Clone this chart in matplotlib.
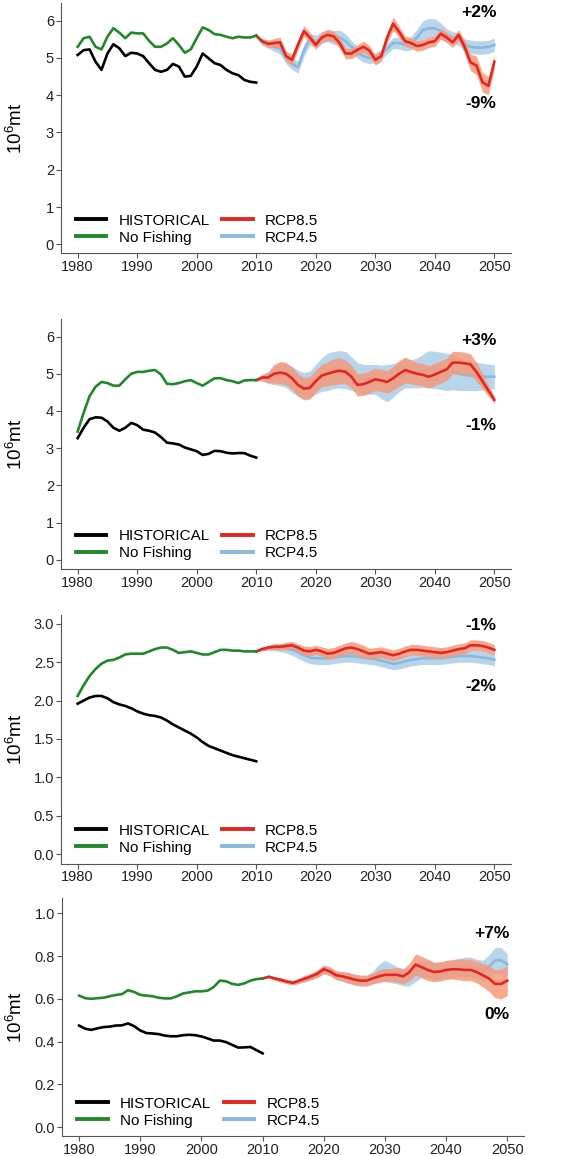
import numpy as np
import matplotlib
matplotlib.use("Agg")
import matplotlib.pyplot as plt
from matplotlib.lines import Line2D

plt.rcParams["font.family"] = ["Liberation Sans", "DejaVu Sans"]
plt.rcParams["mathtext.default"] = "regular"

# ---- years ----
years_hist = np.arange(1980, 2011)
years_proj = np.arange(2010, 2051)

# ---- panel 1 ----
p1_hist = [5.08, 5.21, 5.23, 4.90, 4.68, 5.12, 5.37, 5.26, 5.05, 5.14, 5.12,
           5.05, 4.86, 4.68, 4.63, 4.68, 4.84, 4.77, 4.50, 4.52, 4.77,
           5.12, 4.99, 4.86, 4.81, 4.68, 4.59, 4.54, 4.41, 4.36, 4.34]
p1_nofish = [5.30, 5.53, 5.57, 5.30, 5.23, 5.57, 5.80, 5.68, 5.53, 5.68, 5.66,
             5.66, 5.46, 5.30, 5.30, 5.39, 5.53, 5.35, 5.14, 5.23, 5.53,
             5.82, 5.75, 5.64, 5.62, 5.57, 5.53, 5.57, 5.55, 5.55, 5.60]
p1_rcp85 = [5.60, 5.45, 5.38, 5.40, 5.42, 5.05, 4.95, 5.35, 5.72, 5.55, 5.35,
            5.55, 5.62, 5.58, 5.40, 5.12, 5.12, 5.22, 5.30, 5.20, 4.95,
            5.05, 5.55, 5.92, 5.70, 5.45, 5.40, 5.32, 5.35, 5.42, 5.45,
            5.65, 5.55, 5.42, 5.62, 5.30, 4.88, 4.80, 4.35, 4.25, 4.90]
p1_rcp85_sd = [0.02, 0.07, 0.10, 0.12, 0.14, 0.14, 0.15, 0.14, 0.15, 0.14, 0.12,
               0.14, 0.15, 0.14, 0.14, 0.14, 0.14, 0.14, 0.15, 0.14, 0.14,
               0.14, 0.15, 0.18, 0.15, 0.14, 0.14, 0.14, 0.14, 0.14, 0.14,
               0.14, 0.14, 0.14, 0.14, 0.18, 0.22, 0.25, 0.26, 0.24, 0.18]
p1_rcp45 = [5.60, 5.40, 5.35, 5.30, 5.25, 5.00, 4.85, 4.75, 5.20, 5.50, 5.45,
            5.55, 5.60, 5.55, 5.55, 5.45, 5.30, 5.15, 5.05, 5.00, 5.00,
            5.10, 5.25, 5.40, 5.40, 5.35, 5.40, 5.55, 5.75, 5.80, 5.80,
            5.72, 5.60, 5.55, 5.50, 5.35, 5.30, 5.28, 5.28, 5.30, 5.35]
p1_rcp45_sd = [0.02, 0.06, 0.09, 0.12, 0.14, 0.15, 0.16, 0.16, 0.16, 0.16, 0.16,
               0.16, 0.16, 0.18, 0.20, 0.20, 0.16, 0.16, 0.16, 0.15, 0.14,
               0.14, 0.14, 0.15, 0.16, 0.16, 0.18, 0.22, 0.25, 0.26, 0.25,
               0.22, 0.18, 0.16, 0.16, 0.16, 0.18, 0.18, 0.18, 0.18, 0.18]

# ---- panel 2 ----
p2_hist = [3.27, 3.55, 3.78, 3.83, 3.82, 3.72, 3.55, 3.47, 3.55, 3.68, 3.62,
           3.50, 3.47, 3.42, 3.30, 3.15, 3.13, 3.10, 3.02, 2.97, 2.92,
           2.82, 2.85, 2.93, 2.92, 2.88, 2.86, 2.87, 2.87, 2.80, 2.75]
p2_nofish = [3.45, 3.95, 4.40, 4.65, 4.78, 4.75, 4.68, 4.68, 4.85, 5.00, 5.05,
             5.05, 5.08, 5.10, 4.98, 4.73, 4.72, 4.75, 4.80, 4.83, 4.75,
             4.68, 4.78, 4.88, 4.88, 4.83, 4.80, 4.75, 4.82, 4.83, 4.83]
p2_rcp85 = [4.83, 4.90, 4.90, 5.00, 5.03, 5.00, 4.88, 4.70, 4.60, 4.62, 4.80,
            4.95, 5.00, 5.05, 5.08, 5.05, 4.92, 4.70, 4.72, 4.78, 4.85,
            4.82, 4.78, 4.88, 5.00, 5.10, 5.05, 5.00, 4.97, 4.92, 4.98,
            5.05, 5.12, 5.30, 5.30, 5.28, 5.25, 5.05, 4.80, 4.55, 4.30]
p2_rcp85_sd = [0.02, 0.08, 0.15, 0.25, 0.30, 0.30, 0.30, 0.30, 0.30, 0.30, 0.30,
               0.30, 0.32, 0.35, 0.35, 0.32, 0.30, 0.30, 0.30, 0.30, 0.30,
               0.30, 0.30, 0.32, 0.35, 0.35, 0.32, 0.30, 0.30, 0.30, 0.30,
               0.30, 0.30, 0.30, 0.30, 0.30, 0.28, 0.25, 0.20, 0.15, 0.10]
p2_rcp45 = [4.83, 4.88, 4.90, 4.95, 4.98, 4.95, 4.85, 4.75, 4.68, 4.72, 4.85,
            4.98, 5.05, 5.10, 5.12, 5.10, 5.00, 4.90, 4.85, 4.85, 4.85,
            4.78, 4.75, 4.82, 4.92, 5.00, 5.00, 5.02, 5.08, 5.12, 5.10,
            5.08, 5.05, 5.05, 5.00, 4.97, 4.95, 4.93, 4.92, 4.92, 4.92]
p2_rcp45_sd = [0.02, 0.08, 0.15, 0.25, 0.30, 0.32, 0.35, 0.35, 0.35, 0.35, 0.40,
               0.45, 0.50, 0.50, 0.50, 0.50, 0.45, 0.40, 0.40, 0.40, 0.40,
               0.45, 0.50, 0.45, 0.40, 0.38, 0.38, 0.40, 0.45, 0.50, 0.50,
               0.50, 0.50, 0.48, 0.45, 0.42, 0.40, 0.38, 0.36, 0.34, 0.32]

# ---- panel 3 ----
p3_hist = [1.96, 2.00, 2.04, 2.06, 2.06, 2.03, 1.98, 1.95, 1.93, 1.90, 1.86,
           1.83, 1.81, 1.80, 1.78, 1.74, 1.69, 1.65, 1.61, 1.57, 1.52,
           1.46, 1.41, 1.38, 1.35, 1.32, 1.29, 1.27, 1.25, 1.23, 1.21]
p3_nofish = [2.06, 2.20, 2.32, 2.41, 2.48, 2.52, 2.53, 2.56, 2.60, 2.61, 2.61,
             2.61, 2.64, 2.67, 2.69, 2.69, 2.66, 2.62, 2.63, 2.64, 2.62,
             2.60, 2.60, 2.63, 2.66, 2.66, 2.65, 2.65, 2.64, 2.64, 2.64]
p3_rcp85 = [2.64, 2.67, 2.69, 2.70, 2.70, 2.71, 2.72, 2.69, 2.65, 2.64, 2.66,
            2.64, 2.61, 2.62, 2.65, 2.68, 2.69, 2.67, 2.64, 2.61, 2.62,
            2.63, 2.61, 2.59, 2.61, 2.64, 2.66, 2.66, 2.65, 2.64, 2.63,
            2.62, 2.63, 2.65, 2.67, 2.68, 2.72, 2.72, 2.71, 2.69, 2.66]
p3_rcp85_sd = [0.01, 0.02, 0.03, 0.04, 0.04, 0.05, 0.05, 0.05, 0.06, 0.06, 0.06,
               0.06, 0.07, 0.07, 0.07, 0.07, 0.08, 0.08, 0.08, 0.07, 0.07,
               0.07, 0.07, 0.07, 0.07, 0.07, 0.07, 0.07, 0.07, 0.07, 0.07,
               0.07, 0.07, 0.07, 0.07, 0.07, 0.07, 0.07, 0.07, 0.07, 0.07]
p3_rcp45 = [2.64, 2.67, 2.68, 2.69, 2.69, 2.68, 2.66, 2.63, 2.59, 2.56, 2.55,
            2.55, 2.55, 2.56, 2.57, 2.58, 2.58, 2.57, 2.56, 2.55, 2.54,
            2.52, 2.50, 2.48, 2.49, 2.51, 2.53, 2.54, 2.55, 2.55, 2.55,
            2.55, 2.56, 2.57, 2.58, 2.58, 2.58, 2.57, 2.56, 2.55, 2.53]
p3_rcp45_sd = [0.01, 0.02, 0.03, 0.04, 0.05, 0.06, 0.07, 0.08, 0.08, 0.08, 0.08,
               0.08, 0.08, 0.08, 0.08, 0.08, 0.08, 0.08, 0.08, 0.08, 0.08,
               0.08, 0.08, 0.08, 0.08, 0.08, 0.08, 0.08, 0.08, 0.08, 0.08,
               0.08, 0.08, 0.08, 0.08, 0.08, 0.08, 0.08, 0.08, 0.08, 0.08]

# ---- panel 4 ----
p4_hist = [0.475, 0.460, 0.455, 0.462, 0.468, 0.470, 0.475, 0.476, 0.485, 0.472, 0.452,
           0.440, 0.438, 0.435, 0.428, 0.425, 0.425, 0.430, 0.432, 0.430, 0.424,
           0.415, 0.405, 0.405, 0.398, 0.385, 0.372, 0.373, 0.375, 0.360, 0.345]
p4_nofish = [0.615, 0.603, 0.600, 0.603, 0.605, 0.612, 0.618, 0.622, 0.640, 0.632, 0.618,
             0.615, 0.612, 0.605, 0.602, 0.602, 0.612, 0.625, 0.630, 0.635, 0.635,
             0.638, 0.655, 0.685, 0.682, 0.670, 0.665, 0.672, 0.685, 0.692, 0.695]
p4_rcp85 = [0.695, 0.703, 0.695, 0.688, 0.680, 0.675, 0.685, 0.695, 0.705, 0.718, 0.738,
            0.728, 0.710, 0.705, 0.698, 0.690, 0.685, 0.685, 0.695, 0.705, 0.712,
            0.712, 0.712, 0.705, 0.725, 0.760, 0.748, 0.735, 0.725, 0.728, 0.735,
            0.738, 0.738, 0.735, 0.735, 0.725, 0.710, 0.695, 0.670, 0.670, 0.685]
p4_rcp85_sd = [0.003, 0.005, 0.008, 0.010, 0.010, 0.010, 0.012, 0.015, 0.015, 0.018, 0.020,
               0.020, 0.020, 0.022, 0.025, 0.025, 0.025, 0.025, 0.025, 0.030, 0.030,
               0.030, 0.035, 0.035, 0.040, 0.050, 0.050, 0.050, 0.045, 0.045, 0.045,
               0.045, 0.050, 0.050, 0.050, 0.050, 0.055, 0.060, 0.065, 0.070, 0.070]
p4_rcp45 = [0.695, 0.703, 0.695, 0.688, 0.680, 0.675, 0.685, 0.695, 0.705, 0.718, 0.738,
            0.728, 0.710, 0.705, 0.698, 0.690, 0.685, 0.685, 0.700, 0.720, 0.730,
            0.720, 0.710, 0.700, 0.700, 0.720, 0.740, 0.740, 0.730, 0.730, 0.735,
            0.740, 0.745, 0.750, 0.750, 0.740, 0.730, 0.750, 0.780, 0.780, 0.760]
p4_rcp45_sd = [0.003, 0.005, 0.008, 0.010, 0.010, 0.010, 0.012, 0.015, 0.015, 0.018, 0.020,
               0.020, 0.020, 0.022, 0.025, 0.025, 0.025, 0.025, 0.030, 0.040, 0.050,
               0.045, 0.040, 0.040, 0.040, 0.040, 0.040, 0.040, 0.040, 0.040, 0.040,
               0.040, 0.040, 0.045, 0.045, 0.045, 0.050, 0.055, 0.060, 0.060, 0.050]

# percentage change labels: (upper, lower, y of upper, y of lower)
p1_pct = ("+2%", "-9%", 6.21, 3.79)
p2_pct = ("+3%", "-1%", 5.89, 3.60)
p3_pct = ("-1%", "-2%", 2.98, 2.18)
p4_pct = ("+7%", "0%", 0.905, 0.527)

C_HIST = "black"
C_NOF = "#22892b"
C_85 = "#e4261f"
C_85_BAND = "#f59a7c"
C_45 = "#8bb9de"
C_45_BAND = "#b9d5ec"

W, H = 565, 1156
fig = plt.figure(figsize=(W / 100, H / 100), dpi=100)


def add_axes_px(left, right, top, bottom):
    return fig.add_axes([left / W, 1 - bottom / H, (right - left) / W, (bottom - top) / H])


def draw_panel(ax, hist, nofish, r85, r85_sd, r45, r45_sd, pct, ylim, yticks, fmt):
    r85, r85_sd = np.array(r85), np.array(r85_sd)
    r45, r45_sd = np.array(r45), np.array(r45_sd)

    ax.fill_between(years_proj, r45 - r45_sd, r45 + r45_sd, color=C_45_BAND, lw=0, zorder=1)
    ax.plot(years_proj, r45, color=C_45, lw=1.9, zorder=2)
    ax.fill_between(years_proj, r85 - r85_sd, r85 + r85_sd, color=C_85_BAND, alpha=0.85, lw=0, zorder=3)
    ax.plot(years_proj, r85, color=C_85, lw=1.9, zorder=4)
    ax.plot(years_hist, nofish, color=C_NOF, lw=1.9, zorder=5)
    ax.plot(years_hist, hist, color=C_HIST, lw=1.9, zorder=5)

    ax.set_xlim(1977.2, 2052.8)
    ax.set_ylim(*ylim)
    ax.set_xticks(range(1980, 2051, 10))
    ax.set_yticks(yticks)
    ax.set_yticklabels([fmt.format(v) for v in yticks])

    for side in ["top", "right"]:
        ax.spines[side].set_visible(False)
    for side in ["left", "bottom"]:
        ax.spines[side].set_color("#555555")
        ax.spines[side].set_linewidth(0.8)
    ax.tick_params(direction="out", length=3.5, width=0.8, color="#555555",
                   labelsize=10.5, labelcolor="#222222", pad=1.5)

    ax.set_ylabel("10$^6$mt", fontsize=13.5)
    ax.yaxis.set_label_coords(-0.078, 0.5)

    handles = [Line2D([], [], color=C_HIST, lw=2.8), Line2D([], [], color=C_NOF, lw=2.8),
               Line2D([], [], color=C_85, lw=2.8), Line2D([], [], color=C_45, lw=2.8)]
    ax.legend(handles, ["HISTORICAL", "No Fishing", "RCP8.5", "RCP4.5"], ncol=2,
              loc="lower left", bbox_to_anchor=(0.033, 0.035), frameon=False,
              fontsize=11, handlelength=2.0, handletextpad=0.8, columnspacing=0.8,
              labelspacing=0.2, borderpad=0, borderaxespad=0)

    up, low, y_up, y_low = pct
    ax.text(2050.4, y_up, up, ha="right", va="center", fontsize=12.5, fontweight="bold")
    ax.text(2050.4, y_low, low, ha="right", va="center", fontsize=12.5, fontweight="bold")


ax1 = add_axes_px(61, 511, 3.2, 253.4)
draw_panel(ax1, p1_hist, p1_nofish, p1_rcp85, p1_rcp85_sd, p1_rcp45, p1_rcp45_sd,
           p1_pct, (-0.245, 6.47), range(0, 7), "{:d}")

ax2 = add_axes_px(61, 511, 319, 569.1)
draw_panel(ax2, p2_hist, p2_nofish, p2_rcp85, p2_rcp85_sd, p2_rcp45, p2_rcp45_sd,
           p2_pct, (-0.245, 6.47), range(0, 7), "{:d}")

ax3 = add_axes_px(61, 511, 614.5, 863.5)
draw_panel(ax3, p3_hist, p3_nofish, p3_rcp85, p3_rcp85_sd, p3_rcp45, p3_rcp45_sd,
           p3_pct, (-0.12, 3.12), [0.0, 0.5, 1.0, 1.5, 2.0, 2.5, 3.0], "{:.1f}")

ax4 = add_axes_px(62, 524.4, 898, 1136)
draw_panel(ax4, p4_hist, p4_nofish, p4_rcp85, p4_rcp85_sd, p4_rcp45, p4_rcp45_sd,
           p4_pct, (-0.041, 1.071), [0.0, 0.2, 0.4, 0.6, 0.8, 1.0], "{:.1f}")

fig.savefig("out.png", dpi=100)
